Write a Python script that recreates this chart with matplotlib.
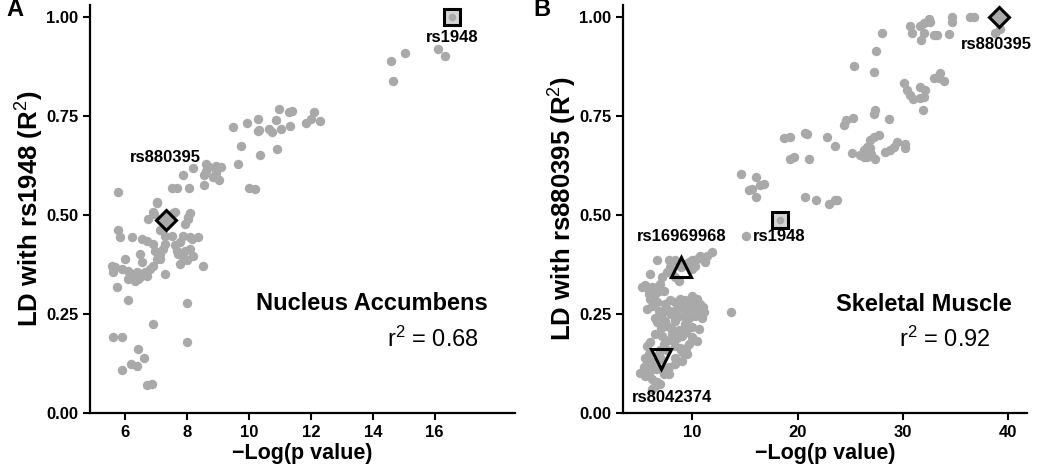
import matplotlib
matplotlib.use("Agg")
import matplotlib.pyplot as plt

plt.rcParams['font.family'] = ['Liberation Sans', 'DejaVu Sans']
plt.rcParams['mathtext.fontset'] = 'custom'
plt.rcParams['mathtext.rm'] = 'Liberation Sans'
plt.rcParams['mathtext.it'] = 'Liberation Sans'
plt.rcParams['mathtext.bf'] = 'Liberation Sans:bold'
plt.rcParams['axes.linewidth'] = 1.6

GRAY = '#a9a9a9'

# ---------------- Panel A: Nucleus Accumbens ----------------
a_x = [16.57, 14.59, 15.03, 14.64, 16.10, 16.33,
       10.96, 11.31, 11.38, 12.11, 11.99, 11.84, 12.29, 9.48, 9.95, 10.29, 10.87,
       10.29, 10.33, 10.65, 10.76, 11.03, 11.32, 9.73, 10.91, 10.35, 9.66, 10.02, 10.21,
       8.61, 8.19, 8.94, 9.09, 8.60, 8.55, 8.85, 9.02, 8.55, 7.86, 7.53, 7.67, 8.07,
       8.70, 8.95, 5.77, 7.04, 7.56, 8.10, 6.75, 6.94, 8.03, 7.94, 5.77,
       7.02, 6.91, 7.61, 8.04, 7.13, 5.84, 6.22, 6.54, 6.70, 6.91, 6.97, 7.13, 7.24,
       7.29, 7.51, 7.29, 7.61, 7.77, 7.88, 8.10, 8.15, 7.67, 7.72, 7.94, 7.88, 8.36,
       8.53, 7.77, 7.99, 6.00, 6.48, 6.54, 7.02, 7.13, 5.57, 5.68, 5.89, 6.11, 6.22,
       6.38, 6.48, 6.65, 6.70, 6.81, 6.91, 7.29, 5.73, 6.11, 6.32, 6.43, 5.60, 8.20,
       8.10, 7.32,
       6.09, 7.99, 6.89, 5.62, 5.89, 6.41, 6.62, 6.18, 6.38, 5.91, 8.01, 6.72, 6.86]
a_y = [1.000, 0.889, 0.908, 0.837, 0.919, 0.900,
       0.768, 0.761, 0.763, 0.761, 0.743, 0.733, 0.736, 0.722, 0.733, 0.743, 0.739,
       0.711, 0.714, 0.716, 0.709, 0.718, 0.724, 0.673, 0.667, 0.652, 0.628, 0.569, 0.566,
       0.628, 0.619, 0.624, 0.621, 0.612, 0.600, 0.596, 0.589, 0.575, 0.601, 0.568, 0.568, 0.568,
       0.620, 0.605, 0.557, 0.530, 0.506, 0.506, 0.490, 0.503, 0.490, 0.476, 0.461,
       0.532, 0.507, 0.507, 0.494, 0.461, 0.444, 0.444, 0.440, 0.435, 0.427, 0.410, 0.402, 0.414,
       0.448, 0.448, 0.427, 0.423, 0.431, 0.448, 0.444, 0.440, 0.410, 0.402, 0.410, 0.393, 0.444,
       0.372, 0.376, 0.385, 0.389, 0.402, 0.380, 0.389, 0.389, 0.372, 0.368, 0.363, 0.359, 0.351,
       0.355, 0.343, 0.355, 0.347, 0.363, 0.372, 0.351, 0.317, 0.338, 0.334, 0.338, 0.355, 0.397,
       0.414, 0.486,
       0.285, 0.278, 0.225, 0.192, 0.191, 0.162, 0.140, 0.123, 0.119, 0.108, 0.178, 0.071, 0.074]

a_square = (16.57, 1.000)    # rs1948
a_diamond = (7.32, 0.486)    # rs880395

# ---------------- Panel B: Skeletal Muscle ----------------
b_x = [39.09, 38.78, 39.18, 36.40, 36.70, 34.66, 34.66, 34.41, 32.44, 32.60, 31.97, 31.65,
       30.64, 30.86, 31.97, 32.92, 33.24, 31.75, 28.01, 27.47, 27.22, 25.38,
       30.07, 30.39, 30.70, 30.96, 31.65, 32.13, 31.65, 31.97, 31.87, 32.92, 33.55, 33.93, 33.40,
       27.38, 27.22, 28.71, 25.22, 24.62, 24.37, 20.73, 20.89, 18.67, 19.31, 22.82, 23.52,
       19.31, 19.62, 21.11,
       25.17, 25.95, 26.27, 26.59, 26.90, 27.22, 27.69, 26.59, 27.38, 28.33, 28.80, 29.12,
       29.44, 30.17, 30.23, 26.90, 26.30, 27.00,
       14.62, 16.05, 15.35, 15.67, 16.46, 16.77, 16.05, 20.73, 21.75, 23.01, 23.58, 23.74,
       18.36, 15.13, 13.70,
       11.87, 11.40, 10.76, 10.45, 9.97, 9.65, 9.33, 9.02, 11.23, 10.28, 9.97, 7.75, 8.39, 8.70,
       6.65, 7.91, 7.60, 8.07, 8.39, 8.70, 6.01, 7.12, 6.96, 6.65, 6.17, 5.54, 5.22, 6.80,
       7.27, 6.49, 5.85, 8.93,
       9.97, 6.01, 8.86, 10.45, 9.33, 6.65, 8.39, 9.65, 7.44, 10.76, 6.17, 9.00, 10.10,
       8.70, 9.97, 11.00, 5.70, 9.33, 10.92, 6.80, 8.22, 10.50, 7.75, 11.07, 9.60,
       8.70, 10.28, 9.20, 6.49, 8.39, 9.65, 10.92, 7.12, 7.60, 8.00, 7.00, 5.90, 7.90,
       6.65, 7.44, 8.39, 9.33, 9.97, 10.60, 7.60, 8.00, 8.70, 9.40, 7.00, 7.80, 8.50, 7.30,
       6.49, 7.12, 8.07, 9.02, 9.97, 10.45, 9.65, 8.86, 8.39, 6.01, 5.70, 6.90, 7.60,
       5.85, 5.70, 5.38, 5.06, 5.54, 6.17, 6.65, 6.96, 6.49, 7.75, 8.39, 9.02, 9.50, 9.02,
       8.39, 7.75, 7.27, 6.00, 6.50, 6.30, 5.90, 7.00, 7.06, 6.80, 8.90, 9.40, 5.50, 6.20]
b_y = [0.999, 0.959, 0.969, 1.000, 1.000, 1.000, 0.988, 0.957, 0.994, 0.988, 0.984, 0.977,
       0.977, 0.960, 0.959, 0.955, 0.955, 0.942, 0.959, 0.915, 0.860, 0.876,
       0.832, 0.815, 0.803, 0.792, 0.822, 0.815, 0.794, 0.798, 0.766, 0.845, 0.859, 0.838, 0.845,
       0.765, 0.756, 0.742, 0.745, 0.739, 0.727, 0.707, 0.704, 0.693, 0.697, 0.697, 0.673,
       0.640, 0.645, 0.642,
       0.656, 0.651, 0.663, 0.672, 0.689, 0.697, 0.701, 0.647, 0.642, 0.659, 0.665, 0.672,
       0.684, 0.678, 0.670, 0.668, 0.645, 0.655,
       0.604, 0.596, 0.562, 0.566, 0.575, 0.579, 0.544, 0.544, 0.537, 0.527, 0.537, 0.538,
       0.486, 0.446, 0.254,
       0.406, 0.397, 0.397, 0.389, 0.385, 0.380, 0.376, 0.372, 0.380, 0.372, 0.364, 0.385, 0.385, 0.376,
       0.385, 0.368, 0.355, 0.351, 0.343, 0.334, 0.351, 0.343, 0.326, 0.317, 0.317, 0.322, 0.317, 0.309,
       0.309, 0.300, 0.309, 0.368,
       0.296, 0.288, 0.288, 0.288, 0.284, 0.279, 0.279, 0.279, 0.275, 0.275, 0.271, 0.271, 0.271,
       0.267, 0.267, 0.267, 0.262, 0.262, 0.262, 0.258, 0.258, 0.258, 0.254, 0.254, 0.254,
       0.246, 0.246, 0.246, 0.241, 0.241, 0.241, 0.241, 0.237, 0.262, 0.250, 0.250, 0.300, 0.285,
       0.229, 0.233, 0.233, 0.225, 0.216, 0.212, 0.220, 0.215, 0.210, 0.205, 0.215, 0.185, 0.190, 0.175,
       0.199, 0.195, 0.199, 0.195, 0.191, 0.182, 0.174, 0.165, 0.170, 0.178, 0.170, 0.160, 0.160,
       0.149, 0.132, 0.115, 0.102, 0.094, 0.085, 0.077, 0.073, 0.068, 0.115, 0.123, 0.132, 0.149, 0.153,
       0.140, 0.098, 0.098, 0.120, 0.110, 0.130, 0.100, 0.110, 0.136, 0.150, 0.160, 0.165, 0.140, 0.060]

b_square = (18.36, 0.486)     # rs1948
b_diamond = (39.09, 0.999)    # rs880395
b_tri_up = (8.93, 0.368)      # rs16969968
b_tri_down = (7.06, 0.136)    # rs8042374

DOT = 46


def style_axes(ax):
    ax.spines['top'].set_visible(False)
    ax.spines['right'].set_visible(False)
    ax.tick_params(direction='out', length=5, width=1.5, labelsize=12)
    ax.set_ylim(0, 1.03)
    ax.set_yticks([0, 0.25, 0.5, 0.75, 1.0])
    ax.set_yticklabels(['0.00', '0.25', '0.50', '0.75', '1.00'], fontweight='bold')
    ax.set_xlabel('\u2212Log(p value)', fontsize=15.5, fontweight='bold', labelpad=2)


fig = plt.figure(figsize=(10.5, 4.69), dpi=100)

# Panel A
axA = fig.add_axes([0.0857, 0.1194, 0.405, 0.870])
axA.scatter(a_x, a_y, s=DOT, color=GRAY, linewidths=0, zorder=2)
axA.plot(*a_square, marker='s', markersize=11, markerfacecolor='#d4d4d4',
         markeredgecolor='black', markeredgewidth=2.2, zorder=3)
axA.scatter([a_square[0]], [a_square[1]], s=30, color=GRAY, linewidths=0, zorder=4)
axA.plot(*a_diamond, marker='D', markersize=10, markerfacecolor=GRAY,
         markeredgecolor='black', markeredgewidth=2.2, zorder=3)
axA.set_xlim(4.87, 18.6)
axA.set_xticks([6, 8, 10, 12, 14, 16])
style_axes(axA)
axA.set_xticklabels(['6', '8', '10', '12', '14', '16'], fontweight='bold')
axA.set_ylabel('LD with rs1948 (R$^2$)', fontsize=18.5, fontweight='bold', labelpad=0)
axA.text(16.56, 0.948, 'rs1948', ha='center', va='center', fontsize=12, fontweight='bold')
axA.text(7.32, 0.646, 'rs880395', ha='center', va='center', fontsize=12, fontweight='bold')
axA.text(13.97, 0.277, 'Nucleus Accumbens', ha='center', va='center', fontsize=17, fontweight='bold')
axA.text(15.94, 0.187, 'r$^2$ = 0.68', ha='center', va='center', fontsize=17)

# Panel B
axB = fig.add_axes([0.5933, 0.1194, 0.385, 0.870])
axB.scatter(b_x, b_y, s=DOT, color=GRAY, linewidths=0, zorder=2)
axB.plot(*b_square, marker='s', markersize=11, markerfacecolor='#d4d4d4',
         markeredgecolor='black', markeredgewidth=2.2, zorder=3)
axB.scatter([b_square[0]], [b_square[1]], s=30, color=GRAY, linewidths=0, zorder=4)
axB.plot(*b_diamond, marker='D', markersize=10, markerfacecolor=GRAY,
         markeredgecolor='black', markeredgewidth=2.2, zorder=3)
axB.plot(*b_tri_up, marker='^', markersize=14, markerfacecolor='none',
         markeredgecolor='black', markeredgewidth=2.2, zorder=3)
axB.plot(*b_tri_down, marker='v', markersize=14, markerfacecolor='none',
         markeredgecolor='black', markeredgewidth=2.2, zorder=3)
axB.set_xlim(3.4, 41.8)
axB.set_xticks([10, 20, 30, 40])
style_axes(axB)
axB.set_xticklabels(['10', '20', '30', '40'], fontweight='bold')
axB.set_ylabel('LD with rs880395 (R$^2$)', fontsize=18.5, fontweight='bold', labelpad=0)
axB.text(38.87, 0.929, 'rs880395', ha='center', va='center', fontsize=12, fontweight='bold')
axB.text(18.26, 0.446, 'rs1948', ha='center', va='center', fontsize=12, fontweight='bold')
axB.text(8.94, 0.446, 'rs16969968', ha='center', va='center', fontsize=12, fontweight='bold')
axB.text(8.07, 0.039, 'rs8042374', ha='center', va='center', fontsize=12, fontweight='bold')
axB.text(32.0, 0.275, 'Skeletal Muscle', ha='center', va='center', fontsize=17, fontweight='bold')
axB.text(33.98, 0.187, 'r$^2$ = 0.92', ha='center', va='center', fontsize=17)

fig.text(0.006, 0.965, 'A', fontsize=17, fontweight='bold')
fig.text(0.508, 0.965, 'B', fontsize=17, fontweight='bold')

fig.savefig('out.png', dpi=100)
